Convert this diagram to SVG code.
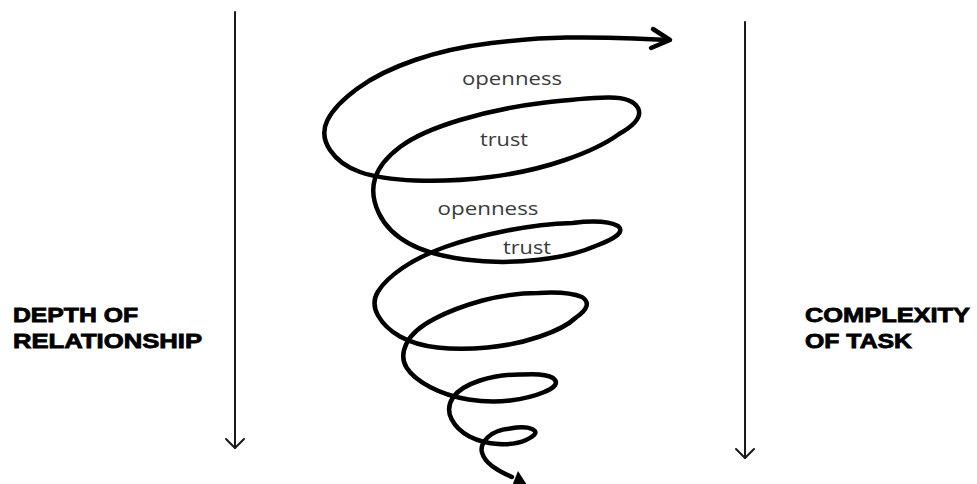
<svg xmlns="http://www.w3.org/2000/svg" width="977" height="484" viewBox="0 0 977 484">
<style>
.axis{fill:none;stroke:#1a1a1a;stroke-width:2;stroke-linecap:round;stroke-linejoin:round}
.spiral{fill:none;stroke:#000;stroke-width:4.5;stroke-linecap:round;stroke-linejoin:round}
.lbl{font-family:"Open Sans","Noto Sans",sans-serif;font-size:19px;fill:#3a3a3a}
.title{font-family:"Liberation Sans",Arial,sans-serif;font-weight:bold;font-size:20px;fill:#000;stroke:#000;stroke-width:0.8}
</style>
<rect width="977" height="484" fill="#fff"/>
<g id="connectors">
<g id="axis-left"><path class="axis" d="M235,12 V448"/><path class="axis" d="M226,439 L235,448 L244,439"/></g>
<g id="axis-right"><path class="axis" d="M745,22 V458"/><path class="axis" d="M736,449 L745,458 L754,449"/></g>
<g id="spiral">
<path class="spiral" d="M 668,40 L 634,38.5 Q 600,37 566.5,37.5 Q 533,38 491.5,43 Q 450,48 415,60 Q 380,72 357.5,88.5 Q 335,105 327.5,120 Q 320,135 330,150 Q 340,165 360,172 Q 380,179 415,180.5 Q 450,182 490,177 Q 530,172 565,160 Q 600,148 619,134 Q 644,120 638,108 Q 632,97 607.5,97.5 Q 583,98 541.5,103 Q 500,108 460,120 Q 420,132 400,147 Q 380,162 375,178.5 Q 370,195 379,213.5 Q 388,232 409,243.5 Q 430,255 465,259.5 Q 500,264 536.5,260 Q 573,256 595.5,246 Q 628,234 618,226 Q 605,219 572.5,223 Q 540,224 505,231 Q 470,238 445,247 Q 420,256 402.5,268 Q 385,280 378,291.5 Q 371,303 378,315.5 Q 385,328 400,336.5 Q 415,345 437.5,347.5 Q 460,350 487.5,347.5 Q 515,345 540,336.5 Q 565,328 576,317.5 Q 594,305 582,297 Q 567,291 538.5,293 Q 510,293 482.5,300.5 Q 455,308 434,319 Q 413,330 406.5,343.5 Q 400,357 406.5,367.5 Q 413,378 430,387 Q 447,396 468.5,399.5 Q 490,403 510,400.5 Q 530,398 543,392.5 Q 562,385 553,378 Q 545,373 522.5,374.5 Q 500,374 480,380.5 Q 460,387 453,397.5 Q 446,408 451.5,419 Q 457,430 469.5,436.5 Q 482,443 498.5,444 Q 515,445 526,440 Q 541,433 532,429 Q 525,426 510,428.5 Q 495,430 487.5,437.5 Q 480,445 482,452.5 Q 484,460 492,466 Q 500,472 512,477"/>
<path class="spiral" d="M653,29 L670,40 L651,48" stroke-width="4"/>
<polygon points="527,485 512,486 518,471" fill="#000"/>
</g>
</g>
<g id="labels">
<text class="lbl" x="512" y="85" text-anchor="middle" textLength="100" lengthAdjust="spacingAndGlyphs">openness</text>
<text class="lbl" x="504" y="146" text-anchor="middle" textLength="48" lengthAdjust="spacingAndGlyphs">trust</text>
<text class="lbl" x="488" y="215" text-anchor="middle" textLength="101" lengthAdjust="spacingAndGlyphs">openness</text>
<text class="lbl" x="527" y="254" text-anchor="middle" textLength="48" lengthAdjust="spacingAndGlyphs">trust</text>
</g>
<g id="title-left">
<text class="title" x="13" y="322" textLength="125" lengthAdjust="spacingAndGlyphs">DEPTH OF</text>
<text class="title" x="13" y="348" textLength="189" lengthAdjust="spacingAndGlyphs">RELATIONSHIP</text>
</g>
<g id="title-right">
<text class="title" x="805" y="322" textLength="165" lengthAdjust="spacingAndGlyphs">COMPLEXITY</text>
<text class="title" x="805" y="348" textLength="107" lengthAdjust="spacingAndGlyphs">OF TASK</text>
</g>
</svg>
